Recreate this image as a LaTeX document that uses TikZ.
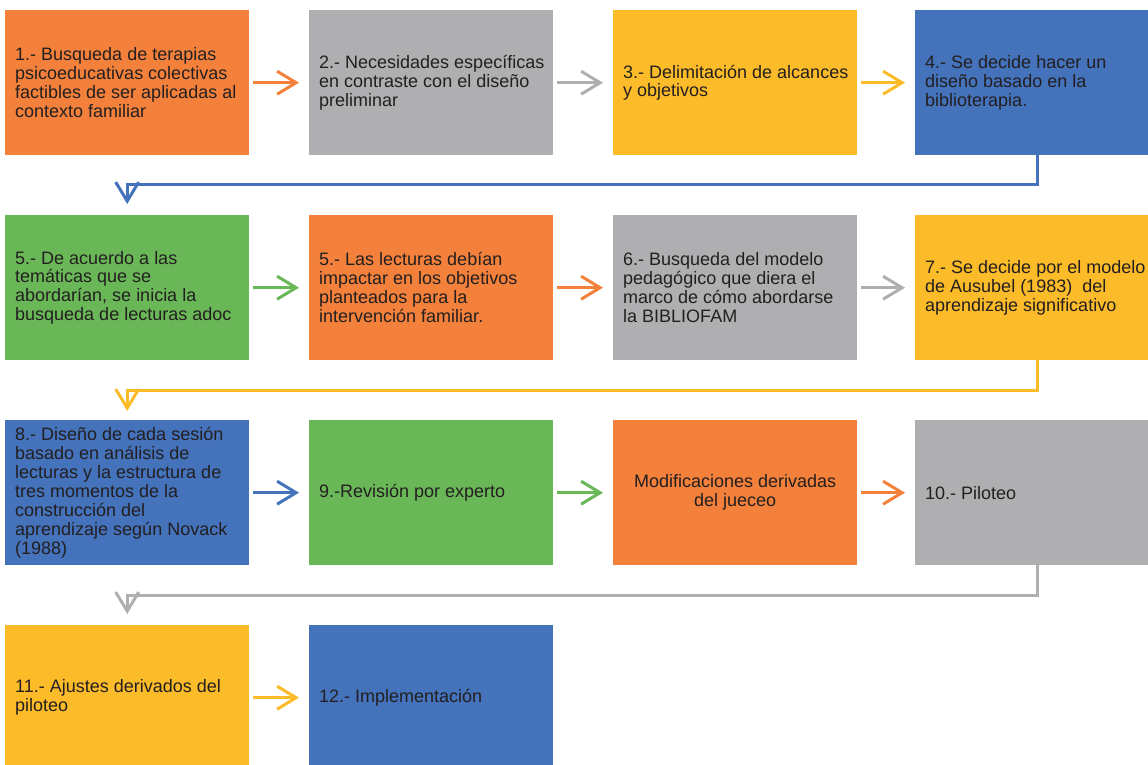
\documentclass[tikz,border=0pt]{standalone}
\usepackage{fontspec}
\setmainfont{Liberation Sans}
\usetikzlibrary{arrows.meta}
\definecolor{cOr}{RGB}{243,129,59}
\definecolor{cGr}{RGB}{175,175,178}
\definecolor{cYe}{RGB}{252,187,41}
\definecolor{cBl}{RGB}{68,114,187}
\definecolor{cGn}{RGB}{106,183,88}
\definecolor{txtc}{RGB}{35,31,32}
\begin{document}
\begin{tikzpicture}[x=1pt,y=-1pt,
  box/.style={anchor=north west, minimum height=145pt, minimum width=244pt,
    inner sep=0pt},
  txt/.style={anchor=west, align=left, inner sep=0pt, text=txtc,
    font=\fontsize{18}{18.9}\selectfont},
  ctxt/.style={anchor=center, align=center, inner sep=0pt, text=txtc,
    font=\fontsize{18}{18.9}\selectfont},
  harr/.style={line width=3pt, -{Straight Barb[length=19pt,width=23pt,line width=3pt]}},
  darr/.style={line width=3pt, -{Straight Barb[length=19pt,width=23pt,line width=3pt]}}
]
\useasboundingbox (0,0) rectangle (1148,764);
\clip (0,0) rectangle (1148,764);
% boxes
\node[box,fill=cOr] (b1) at (5,10) {};
\node[box,fill=cGr] (b2) at (309,10) {};
\node[box,fill=cYe] (b3) at (613,10) {};
\node[box,fill=cBl] (b4) at (915,10) {};
\node[box,fill=cGn] (b5) at (5,215) {};
\node[box,fill=cOr] (b5b) at (309,215) {};
\node[box,fill=cGr] (b6) at (613,215) {};
\node[box,fill=cYe] (b7) at (915,215) {};
\node[box,fill=cBl] (b8) at (5,420) {};
\node[box,fill=cGn] (b9) at (309,420) {};
\node[box,fill=cOr] (bm) at (613,420) {};
\node[box,fill=cGr] (b10) at (915,420) {};
\node[box,fill=cYe] (b11) at (5,625) {};
\node[box,fill=cBl] (b12) at (309,625) {};
% texts
\node[txt] (t1) at ([xshift=10pt]b1.west) {1.- Busqueda de terapias\\psicoeducativas colectivas\\factibles de ser aplicadas al\\contexto familiar};
\node[txt] (t2) at ([xshift=10pt]b2.west) {2.- Necesidades específicas\\en contraste con el diseño\\preliminar};
\node[txt] (t3) at ([xshift=10pt]b3.west) {3.- Delimitación de alcances\\y objetivos};
\node[txt] (t4) at ([xshift=10pt]b4.west) {4.- Se decide hacer un\\diseño basado en la\\biblioterapia.};
\node[txt] (t5) at ([xshift=10pt]b5.west) {5.- De acuerdo a las\\temáticas que se\\abordarían, se inicia la\\busqueda de lecturas adoc};
\node[txt] (t5b) at ([xshift=10pt]b5b.west) {5.- Las lecturas debían\\impactar en los objetivos\\planteados para la\\intervención familiar.};
\node[txt] (t6) at ([xshift=10pt]b6.west) {6.- Busqueda del modelo\\pedagógico que diera el\\marco de cómo abordarse\\la BIBLIOFAM};
\node[txt] (t7) at ([xshift=10pt]b7.west) {7.- Se decide por el modelo\\de Ausubel (1983)\ \ del\\aprendizaje significativo};
\node[txt] (t8) at ([xshift=10pt]b8.west) {8.- Diseño de cada sesión\\basado en análisis de\\lecturas y la estructura de\\tres momentos de la\\construcción del\\aprendizaje según Novack\\(1988)};
\node[txt] (t9) at ([xshift=10pt]b9.west) {9.-Revisión por experto};
\node[ctxt] (tm) at (bm.center) {Modificaciones derivadas\\del jueceo};
\node[txt] (t10) at ([xshift=10pt]b10.west) {10.- Piloteo};
\node[txt] (t11) at ([xshift=10pt]b11.west) {11.- Ajustes derivados del\\piloteo};
\node[txt] (t12) at ([xshift=10pt]b12.west) {12.- Implementación};
% horizontal arrows
\draw[harr,draw=cOr] ([xshift=4pt]b1.east) -- ([xshift=-10pt]b2.west);
\draw[harr,draw=cGr] ([xshift=4pt]b2.east) -- ([xshift=-10pt]b3.west);
\draw[harr,draw=cYe] ([xshift=4pt]b3.east) -- ([xshift=-10pt]b4.west);
\draw[harr,draw=cGn] ([xshift=4pt]b5.east) -- ([xshift=-10pt]b5b.west);
\draw[harr,draw=cOr] ([xshift=4pt]b5b.east) -- ([xshift=-10pt]b6.west);
\draw[harr,draw=cGr] ([xshift=4pt]b6.east) -- ([xshift=-10pt]b7.west);
\draw[harr,draw=cBl] ([xshift=4pt]b8.east) -- ([xshift=-10pt]b9.west);
\draw[harr,draw=cGn] ([xshift=4pt]b9.east) -- ([xshift=-10pt]bm.west);
\draw[harr,draw=cOr] ([xshift=4pt]bm.east) -- ([xshift=-10pt]b10.west);
\draw[harr,draw=cYe] ([xshift=4pt]b11.east) -- ([xshift=-10pt]b12.west);
% row connectors
\draw[darr,draw=cBl] (b4.south) -- ++(0,29) -| ([yshift=11pt]b5.north);
\draw[darr,draw=cYe] (b7.south) -- ++(0,30) -| ([yshift=9pt]b8.north);
\draw[darr,draw=cGr] (b10.south) -- ++(0,30) -| ([yshift=11pt]b11.north);
\end{tikzpicture}
\end{document}
